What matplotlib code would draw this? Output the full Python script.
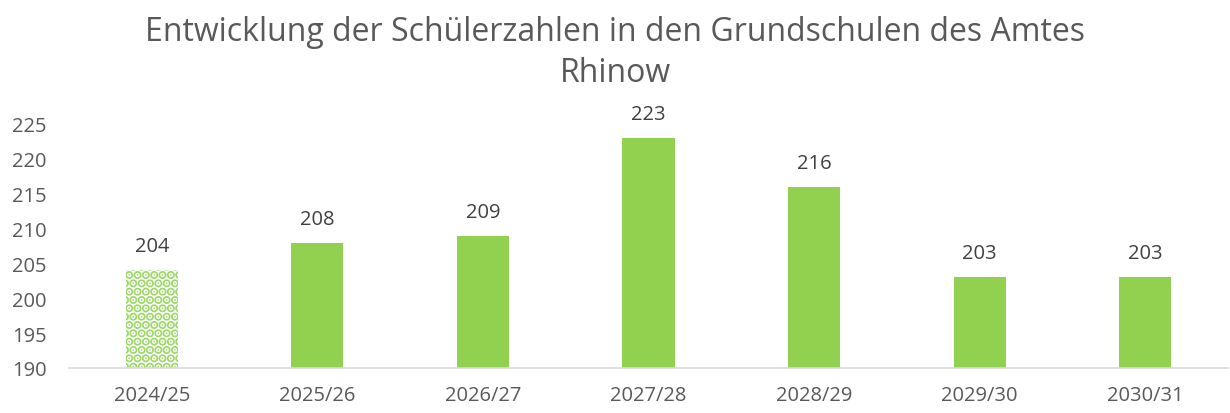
import matplotlib
matplotlib.use("Agg")
import matplotlib.pyplot as plt

plt.rcParams['font.family'] = ['Open Sans', 'DejaVu Sans']
plt.rcParams['hatch.linewidth'] = 4.5

years = ['2024/25', '2025/26', '2026/27', '2027/28', '2028/29', '2029/30', '2030/31']
pupils = [204, 208, 209, 223, 216, 203, 203]

green = '#92D050'
text_col = '#595959'

fig = plt.figure(figsize=(12.3, 4.14), dpi=100)
ax = fig.add_axes([69 / 1230, 45 / 414, 1159 / 1230, 244 / 414])

x = range(len(years))
bars = ax.bar(x, pupils, width=0.315, color=green, zorder=2)
# first school year is shown with a dotted pattern
bars[0].set_facecolor('white')
bars[0].set_hatch('..')
bars[0].set_edgecolor('#9fd86a')
bars[0].set_linewidth(0)

for xi, v in zip(x, pupils):
    ax.text(xi, v + 2.0, str(v), ha='center', va='bottom', fontsize=14.5, color='#404040')

ax.set_ylim(190, 225)
ax.set_xlim(-0.5, len(years) - 0.5)
ax.set_yticks(range(190, 226, 5))
ax.set_xticks(list(x))
ax.set_xticklabels(years)
ax.tick_params(axis='both', length=0, labelsize=14.5, colors=text_col)
ax.tick_params(axis='y', pad=16)
ax.tick_params(axis='x', pad=12)
for s in ['top', 'right', 'left']:
    ax.spines[s].set_visible(False)
ax.spines['bottom'].set_color('#d9d9d9')
ax.spines['bottom'].set_linewidth(1.2)

fig.text(0.5, 0.872, 'Entwicklung der Schülerzahlen in den Grundschulen des Amtes\nRhinow',
         ha='center', va='center', fontsize=23, color=text_col, linespacing=1.3)

fig.savefig('out.png', dpi=100)
